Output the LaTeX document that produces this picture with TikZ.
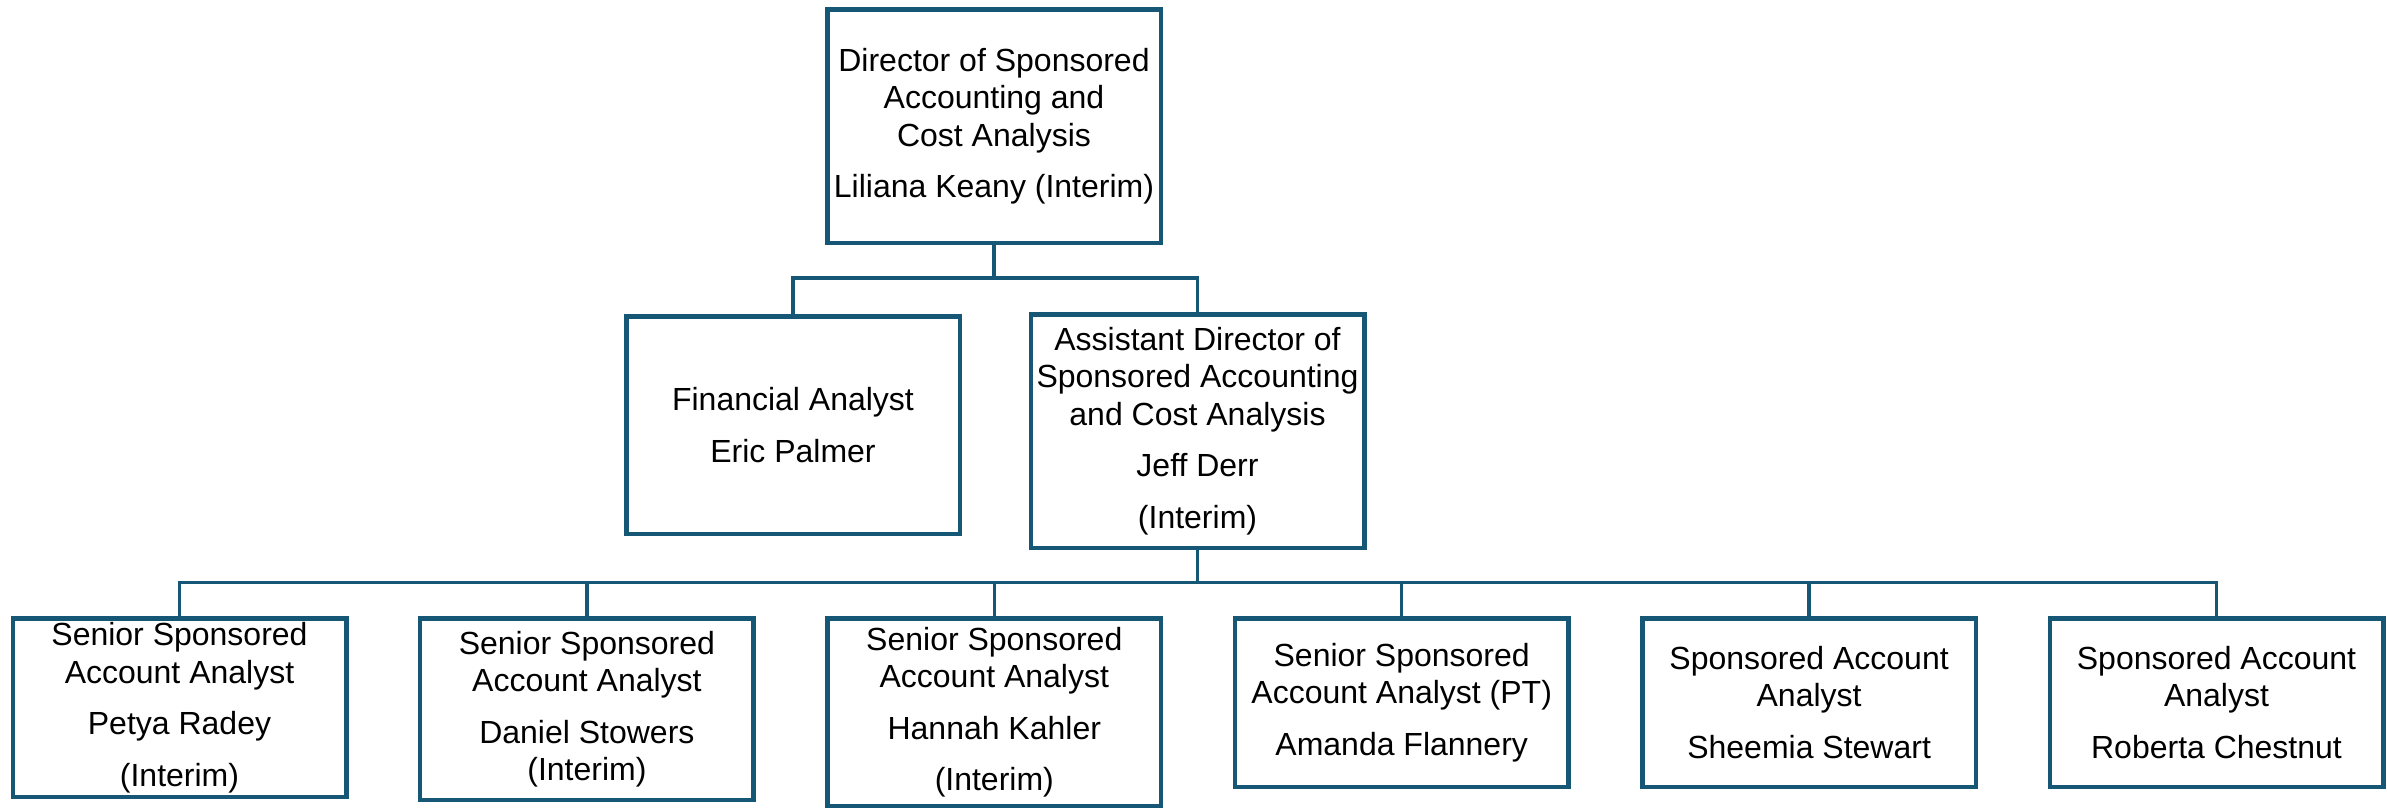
\documentclass[tikz,border=0pt]{standalone}
\usepackage{fontspec}
\setmainfont{Liberation Sans}
\definecolor{orgblue}{HTML}{155775}
\begin{document}
\begin{tikzpicture}[x=1pt,y=-1pt,
  box/.style={draw=orgblue,line width=4.5pt,fill=white,minimum width=333.5pt,
    inner sep=0pt,outer sep=0pt,align=center,
    font=\fontsize{32}{37.5}\selectfont},
  conn/.style={draw=orgblue,line width=3.5pt}]
\useasboundingbox (0,0) rectangle (2387,809);
\node[box,minimum height=233.5pt] (top) at (994,126)
  {Director of Sponsored\\Accounting and\\Cost Analysis\\[14pt]Liliana Keany (Interim)};
\node[box,minimum height=217.5pt] (fin) at (793,425)
  {Financial Analyst\\[14pt]Eric Palmer};
\node[box,minimum height=233.5pt] (asst) at (1197.5,431)
  {Assistant Director of\\Sponsored Accounting\\and Cost Analysis\\[14pt]Jeff Derr\\[14pt](Interim)};
\node[box,minimum height=178.5pt] (b1) at (179.5,707.5)
  {Senior Sponsored\\Account Analyst\\[14pt]Petya Radey\\[14pt](Interim)};
\node[box,minimum height=181.5pt] (b2) at (586.9,709)
  {Senior Sponsored\\Account Analyst\\[14pt]Daniel Stowers\\(Interim)};
\node[box,minimum height=187.5pt] (b3) at (994.3,712)
  {Senior Sponsored\\Account Analyst\\[14pt]Hannah Kahler\\[14pt](Interim)};
\node[box,minimum height=168.5pt] (b4) at (1401.7,702.5)
  {Senior Sponsored\\Account Analyst (PT)\\[14pt]Amanda Flannery};
\node[box,minimum height=168.5pt] (b5) at (1809.1,702.5)
  {Sponsored Account\\Analyst\\[14pt]Sheemia Stewart};
\node[box,minimum height=168.5pt] (b6) at (2216.5,702.5)
  {Sponsored Account\\Analyst\\[14pt]Roberta Chestnut};
\coordinate (j1) at (994,278);
\coordinate (j2) at (1197.5,582.5);
\draw[conn] (top.south) -- (j1);
\draw[conn] (j1) -| (fin.north);
\draw[conn] (j1) -| (asst.north);
\draw[conn] (asst.south) -- (j2);
\foreach \b in {b1,b2,b3,b4,b5,b6} {\draw[conn] (j2) -| (\b.north);}
\end{tikzpicture}
\end{document}
